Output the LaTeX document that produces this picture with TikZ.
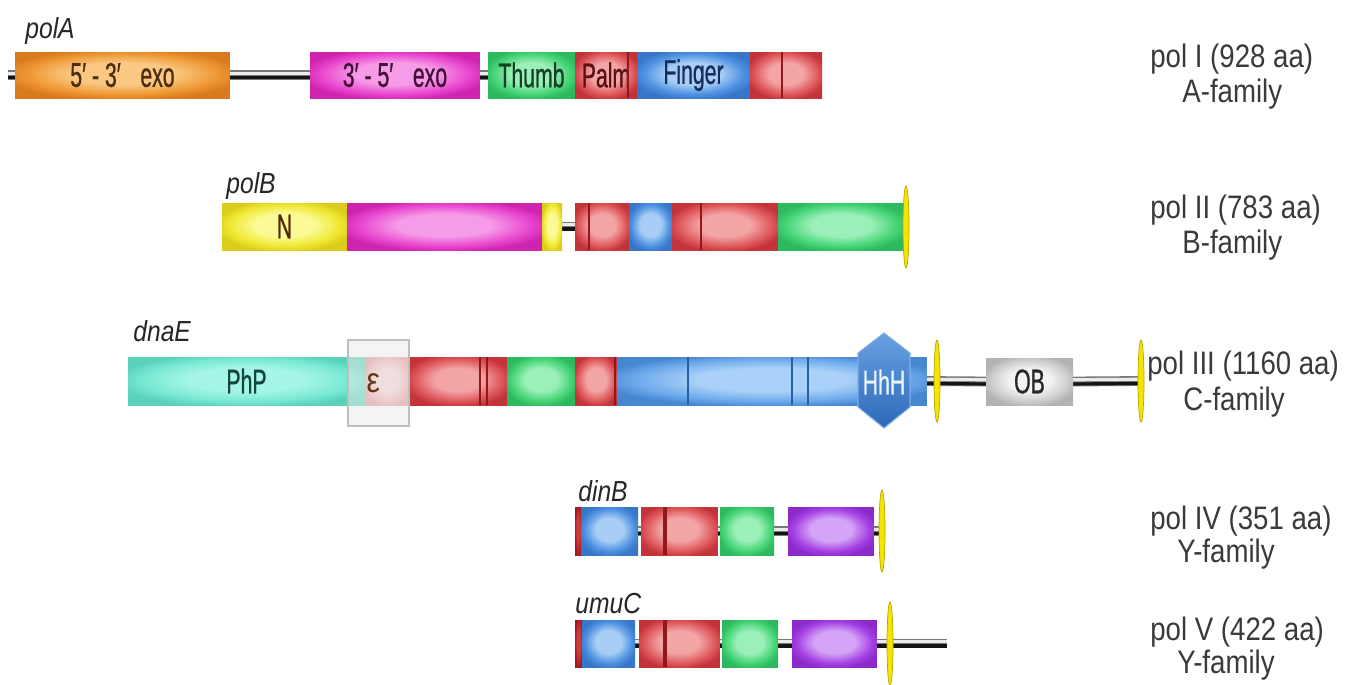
\documentclass[tikz,border=0pt]{standalone}
\usepackage{fontspec}
\setmainfont{Liberation Sans}
\newfontfamily\narrowf[FakeStretch=0.85]{Liberation Sans}
\newfontfamily\condf[FakeStretch=0.62,FakeBold=0.7]{Liberation Sans}
\usetikzlibrary{shapes.geometric}
\pgfdeclarelayer{back}
\pgfdeclarelayer{bg}
\pgfsetlayers{back,bg,main}
\colorlet{glossbase}{gray}
\colorlet{glosslight}{white}
\colorlet{glossdark}{black}
\pgfdeclareradialshading[glossbase,glosslight,glossdark]{gloss}{\pgfpoint{0bp}{2bp}}{color(0bp)=(glosslight); color(12bp)=(glosslight); color(22bp)=(glossbase); color(28bp)=(glossdark); color(50bp)=(glossdark)}
% domain colours
\definecolor{orngbase}{RGB}{238,152,52}\definecolor{ornglight}{RGB}{250,200,130}\definecolor{orngdark}{RGB}{218,122,30}
\definecolor{magbase}{RGB}{232,70,205}\definecolor{maglight}{RGB}{246,155,232}\definecolor{magdark}{RGB}{205,35,175}
\definecolor{grnbase}{RGB}{70,212,118}\definecolor{grnlight}{RGB}{155,240,185}\definecolor{grndark}{RGB}{45,185,95}
\definecolor{redbase}{RGB}{222,88,92}\definecolor{redlight}{RGB}{243,165,165}\definecolor{reddark}{RGB}{195,52,58}
\definecolor{blubase}{RGB}{78,145,225}\definecolor{blulight}{RGB}{168,206,246}\definecolor{bludark}{RGB}{55,118,200}
\definecolor{blu2base}{RGB}{110,170,235}\definecolor{blu2light}{RGB}{170,210,248}\definecolor{blu2dark}{RGB}{70,135,210}
\definecolor{yelbase}{RGB}{238,232,50}\definecolor{yellight}{RGB}{252,250,150}\definecolor{yeldark}{RGB}{218,205,25}
\definecolor{tealbase}{RGB}{120,232,210}\definecolor{teallight}{RGB}{165,246,232}\definecolor{tealdark}{RGB}{90,210,185}
\definecolor{purbase}{RGB}{165,65,228}\definecolor{purlight}{RGB}{212,165,246}\definecolor{purdark}{RGB}{138,42,202}
\definecolor{greybase}{RGB}{205,205,205}\definecolor{greylight}{RGB}{242,242,242}\definecolor{greydark}{RGB}{178,178,178}
\definecolor{pinkbase}{RGB}{236,175,175}\definecolor{pinklight}{RGB}{246,208,208}\definecolor{pinkdark}{RGB}{225,150,150}
\definecolor{dredbase}{RGB}{185,35,40}\definecolor{dredlight}{RGB}{205,60,60}\definecolor{dreddark}{RGB}{160,25,30}
\definecolor{hextop}{RGB}{105,160,225}
\definecolor{hexbot}{RGB}{45,105,185}
\definecolor{hexedge}{RGB}{125,175,232}
\definecolor{hextext}{RGB}{235,245,255}
\definecolor{epsedge}{RGB}{190,190,190}
\definecolor{epsfill}{RGB}{235,235,235}
\definecolor{epstext}{RGB}{95,55,20}
\definecolor{bbg}{RGB}{120,120,120}
\definecolor{bbw}{RGB}{235,235,235}
\definecolor{bbk}{RGB}{20,20,20}
% text colours
\definecolor{txtA}{RGB}{75,45,15}
\definecolor{txtM}{RGB}{65,15,55}
\definecolor{txtG}{RGB}{20,65,35}
\definecolor{txtR}{RGB}{90,15,20}
\definecolor{txtB}{RGB}{25,45,90}
\definecolor{txtN}{RGB}{80,40,5}
\definecolor{txtT}{RGB}{20,70,60}
\definecolor{labc}{RGB}{58,58,58}
\definecolor{markred}{RGB}{140,25,30}
\definecolor{markblue}{RGB}{40,95,165}
\definecolor{ellfill}{RGB}{245,228,0}
\definecolor{elldraw}{RGB}{185,165,0}
% domain box: [options]{name}{colour}{x1}{x2}{ycentre}{height}{text}
\newcommand\dom[8][]{\node[dombox=#3, minimum width={(#5-#4)*0.5690551pt}, minimum height={#7*0.5690551pt}, anchor=west, #1] (#2) at (#4,#6) {#8};}
% backbone line between two points
\newcommand\bbone[2]{%
  \draw[bbgray] (#1) -- (#2);
  \draw[bbwhite] ([yshift=1.0pt]#1) -- ([yshift=1.0pt]#2);
  \draw[bbblack] ([yshift=-1.4pt]#1) -- ([yshift=-1.4pt]#2);}
\newcommand\yell[4]{\node[yelell, minimum height={#4*0.5690551pt}] (#1) at (#2,#3) {};}
\begin{document}
\begin{tikzpicture}[x=0.02cm,y=-0.02cm,
  dombox/.style={shade, shading=gloss,
    /utils/exec={\colorlet{glossbase}{#1base}\colorlet{glosslight}{#1light}\colorlet{glossdark}{#1dark}},
    inner sep=0pt, outer sep=0pt, font=\condf\fontsize{19.5}{19.5}\selectfont},
  bbgray/.style={draw=bbg, line width=5.6pt},
  bbwhite/.style={draw=bbw, line width=1.8pt},
  bbblack/.style={draw=bbk, line width=1.8pt},
  rmark/.style={draw=markred, line width=1.6pt},
  rmarkthick/.style={draw=markred, line width=2.8pt},
  bmark/.style={draw=markblue, line width=1.1pt},
  yelell/.style={ellipse, fill=ellfill, draw=elldraw, line width=0.4pt, inner sep=0pt, outer sep=0pt, minimum width={6*0.5690551pt}},
  lab/.style={anchor=base west, text=labc, inner sep=0pt, font=\narrowf\fontsize{18.5}{18.5}\selectfont},
  gene/.style={anchor=base west, text=black!85, inner sep=0pt, font=\narrowf\itshape\fontsize{16.5}{16.5}\selectfont},
]
\begin{pgfonlayer}{back}
\fill[white] (0,0) rectangle (1361,684);
\end{pgfonlayer}
\useasboundingbox (0,0) rectangle (1361,684);

% ---------------- polA ----------------
\node[gene] (gA) at (25,38) {polA};
\coordinate (a0) at (8,75);
\dom[text=txtA]{a1}{orng}{15}{230}{75}{46}{5′ - 3′\hspace{0.4em} exo}
\dom[text=txtM]{a2}{mag}{310}{480}{75}{46}{3′ - 5′\hspace{0.4em} exo}
\dom[text=txtG]{a3}{grn}{488}{575}{75}{46}{Thumb}
\dom[text=txtR]{a4}{red}{575}{637}{75}{46}{Palm\hspace{6pt}}
\dom[text=txtB]{a5}{blu}{637}{750}{75}{46}{Finger}
\dom{a6}{red}{750}{822}{75}{46}{}
\draw[rmark] (628,52) -- (628,98);
\draw[rmark] (782,52) -- (782,98);

% ---------------- polB ----------------
\node[gene] (gB) at (226,193) {polB};
\dom[text=txtN]{b1}{yel}{222}{347}{226.5}{47}{N}
\dom{b2}{mag}{347}{542}{226.5}{47}{}
\dom{b3}{yel}{542}{562}{226.5}{47}{}
\dom{b4}{red}{575}{629}{226.5}{47}{}
\dom{b5}{blu}{629}{672}{226.5}{47}{}
\dom{b6}{red}{672}{778}{226.5}{47}{}
\dom{b7}{grn}{778}{904}{226.5}{47}{}
\draw[rmark] (589,203) -- (589,250);
\draw[rmark] (701,203) -- (701,250);
\yell{eB}{906}{227}{82}

% ---------------- dnaE ----------------
\node[gene] (gE) at (133,341) {dnaE};
\dom[text=txtT]{c1}{teal}{128}{365}{381}{48}{PhP}
\dom{c2}{pink}{365}{409}{381}{48}{}
\dom{c3}{red}{409}{507}{381}{48}{}
\dom{c4}{grn}{507}{575}{381}{48}{}
\dom{c5}{red}{575}{617}{381}{48}{}
\dom{c6}{blu2}{617}{927}{381}{48}{}
\draw[rmark] (480,357) -- (480,405);
\draw[rmark] (487,357) -- (487,405);
\draw[rmark] (615,357) -- (615,405);
\draw[bmark] (688,357) -- (688,405);
\draw[bmark] (792,357) -- (792,405);
\draw[bmark] (808,357) -- (808,405);
\path[top color=hextop, bottom color=hexbot, draw=hexedge, line width=0.6pt]
  (884,333) -- (910,353) -- (910,407) -- (884,428) -- (858,407) -- (858,353) -- cycle;
\node[text=hextext, inner sep=0pt, font=\condf\fontsize{19.5}{19.5}\selectfont] (hhh) at (884,382) {HhH};
\node[draw=epsedge, fill=epsfill, fill opacity=0.5, text opacity=1, text=epstext,
  inner sep=0pt, line width=0.6pt, minimum width={61*0.5690551pt}, minimum height={86*0.5690551pt},
  font=\narrowf\fontsize{20}{20}\selectfont] (eps) at (378.5,383) {\hspace*{-6pt}ε};
\dom[text=black!85]{c7}{grey}{986}{1073}{381.5}{47}{OB}
\yell{eE1}{937}{381}{82}
\yell{eE2}{1141}{381}{82}

% ---------------- dinB ----------------
\node[gene] (gD) at (578,501) {dinB};
\dom{d0}{dred}{575}{581}{531}{48}{}
\dom{d1}{blu}{581}{638}{531}{48}{}
\dom{d2}{red}{641}{718}{531}{48}{}
\dom{d3}{grn}{720}{774}{531}{48}{}
\dom{d4}{pur}{788}{874}{531}{48}{}
\draw[rmarkthick] (665,507) -- (665,555);
\yell{eD}{882}{531}{82}

% ---------------- umuC ----------------
\node[gene] (gU) at (575,613) {umuC};
\dom{u0}{dred}{575}{582}{643.5}{47}{}
\dom{u1}{blu}{582}{635}{643.5}{47}{}
\dom{u2}{red}{639}{720}{643.5}{47}{}
\dom{u3}{grn}{722}{778}{643.5}{47}{}
\dom{u4}{pur}{792}{877}{643.5}{47}{}
\draw[rmarkthick] (665,620) -- (665,667);
\coordinate (uend) at (947,643.5);
\yell{eU}{890}{644}{84}

% ---------------- backbones ----------------
\begin{pgfonlayer}{bg}
\bbone{a0}{a1.west}
\bbone{a1.east}{a2.west}
\bbone{a2.east}{a3.west}
\bbone{b3.east}{b4.west}
\bbone{c6.east}{c7.west}
\bbone{c7.east}{eE2.center}
\bbone{d1.east}{d2.west}
\bbone{d2.east}{d3.west}
\bbone{d3.east}{d4.west}
\bbone{d4.east}{eD.center}
\bbone{u1.east}{u2.west}
\bbone{u2.east}{u3.west}
\bbone{u3.east}{u4.west}
\bbone{u4.east}{uend}
\end{pgfonlayer}

% ---------------- labels ----------------
\node[lab] (l1a) at (1150,67) {pol I (928 aa)};
\node[lab] (l1b) at (1182,102) {A-family};
\node[lab] (l2a) at (1150,218) {pol II (783 aa)};
\node[lab] (l2b) at (1182,253) {B-family};
\node[lab] (l3a) at (1147,374) {pol III (1160 aa)};
\node[lab] (l3b) at (1183,410) {C-family};
\node[lab] (l4a) at (1150,529) {pol IV (351 aa)};
\node[lab] (l4b) at (1177,562) {Y-family};
\node[lab] (l5a) at (1150,640) {pol V (422 aa)};
\node[lab] (l5b) at (1177,673) {Y-family};
\end{tikzpicture}
\end{document}
